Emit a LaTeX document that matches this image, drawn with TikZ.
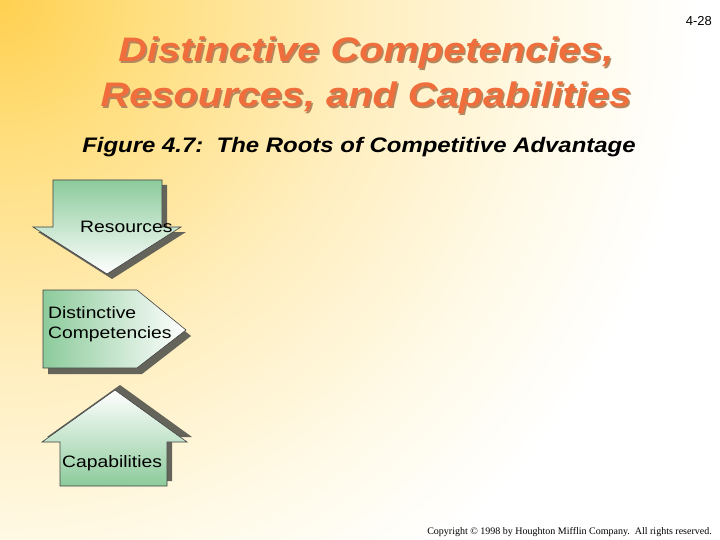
\documentclass[tikz,border=0pt]{standalone}
\usepackage{fontspec}
\setmainfont{Liberation Sans}
\newfontfamily\copyfont{Liberation Serif}
\usetikzlibrary{positioning}

\definecolor{titleorange}{RGB}{240,110,60}
\definecolor{titleshadow}{RGB}{180,135,95}
\definecolor{boxgreen}{RGB}{140,203,155}
\definecolor{boxshadow}{RGB}{100,100,90}
\definecolor{bgA}{RGB}{255,208,80}
\definecolor{bgB}{RGB}{255,222,125}
\definecolor{bgC}{RGB}{255,238,190}
\definecolor{bgD}{RGB}{255,250,232}
\pgfdeclareradialshading{slidebg}{\pgfpoint{0bp}{0bp}}{color(0bp)=(bgA); color(5bp)=(bgB); color(13bp)=(bgC); color(20bp)=(bgD); color(25bp)=(white); color(50bp)=(white)}

\tikzset{
  boxline/.style={draw=black!75, line width=0.6pt},
  boxshade/.style={fill=boxshadow, draw=none},
  boxtext/.style={font=\fontsize{16.5}{20}\selectfont, inner sep=0pt, anchor=base west, xscale=1.17, transform shape},
  titletext/.style={font=\fontsize{34}{40}\selectfont\bfseries\itshape, inner sep=0pt, anchor=base, xscale=1.17, transform shape},
}

\begin{document}
\begin{tikzpicture}[x=1pt, y=-1pt]
  \useasboundingbox (0,0) rectangle (720,540);
  % background
  \fill[white] (0,0) rectangle (720,540);
  \begin{scope}
    \clip (0,0) rectangle (720,540);
    \shade[shading=slidebg] (0,0) circle [radius=700pt];
  \end{scope}

  % title
  \node[titletext, text=titleshadow] (title1s) at (367.5,63.5) {Distinctive Competencies,};
  \node[titletext, text=titleorange] (title1) at (366,62) {Distinctive Competencies,};
  \node[titletext, text=titleshadow] (title2s) at (367.5,108.5) {Resources, and Capabilities};
  \node[titletext, text=titleorange] (title2) at (366,107) {Resources, and Capabilities};
  \node[font=\fontsize{21}{24}\selectfont\bfseries\itshape, inner sep=0pt, anchor=base, xscale=1.14, transform shape]
    (fig) at (359,153) {Figure 4.7:\ \ The Roots of Competitive Advantage};
  \node[font=\fontsize{13}{15}\selectfont, inner sep=0pt, anchor=base east] (page) at (712,26) {4-28};

  % shadows
  \fill[boxshade] (58,185) -- (167,185) -- (167,232) -- (186,232) -- (112,279) -- (38,232) -- (58,232) -- cycle;
  \fill[boxshade] (48,296) -- (142,296) -- (191,336) -- (142,374) -- (48,374) -- cycle;
  \fill[boxshade] (120,385) -- (192,437) -- (172,437) -- (172,481) -- (65,481) -- (65,437) -- (47,437) -- cycle;

  % arrows
  \shadedraw[boxline, top color=boxgreen, bottom color=white]
    (53,180) -- (162,180) -- (162,227) -- (181,227) -- (107,274) -- (33,227) -- (53,227) -- cycle;
  \shadedraw[boxline, left color=boxgreen, right color=white]
    (43,290) -- (137,290) -- (186,330) -- (137,368) -- (43,368) -- cycle;
  \shadedraw[boxline, bottom color=boxgreen, top color=white]
    (115,390) -- (187,442) -- (167,442) -- (167,486) -- (60,486) -- (60,442) -- (42,442) -- cycle;

  \node[boxtext] (res) at (80,233) {Resources};
  \node[boxtext] (dist1) at (48,318) {Distinctive};
  \node[boxtext] (dist2) at (48,338) {Competencies};
  \node[boxtext] (cap) at (62,467) {Capabilities};

  \node[font=\copyfont\fontsize{10}{12}\selectfont, inner sep=0pt, anchor=base east] (copy) at (712,534)
    {Copyright \textcopyright{} 1998 by Houghton Mifflin Company.\ \ All rights reserved.};
\end{tikzpicture}
\end{document}
